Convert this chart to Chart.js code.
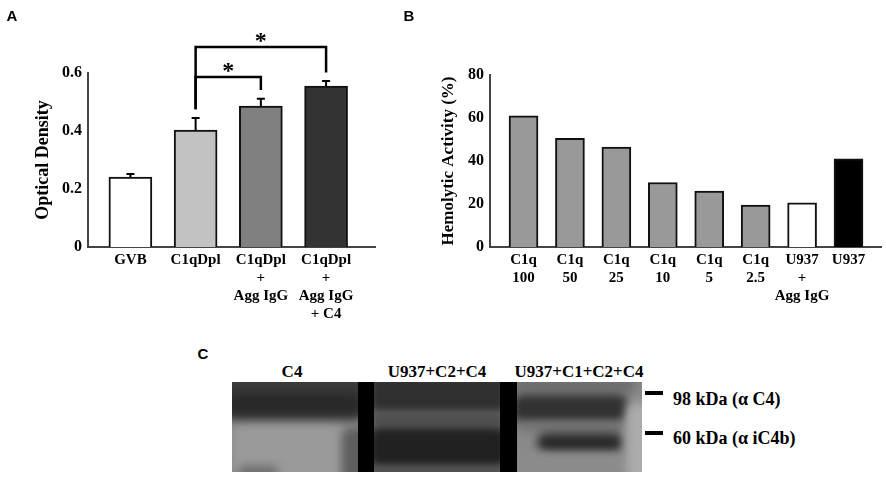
<!DOCTYPE html>
<html>
<head>
<meta charset="utf-8">
<script src="https://cdn.jsdelivr.net/npm/chart.js@4.4.1/dist/chart.umd.min.js"></script>
<style>
  body { margin: 0; background: #fff; width: 886px; height: 477px; position: relative; overflow: hidden;
         font-family: "Liberation Serif", "Times New Roman", serif; }
  canvas { position: absolute; }
  .lbl { position: absolute; font-weight: bold; white-space: nowrap; transform: translate(-50%, -50%); color: #000; }
  .panel { position: absolute; font-family: "Liberation Sans", Arial, sans-serif; font-weight: bold;
           font-size: 15px; transform: translate(-50%, -50%); }
  .dash { position: absolute; background: #000; width: 18px; height: 4px; }
</style>
</head>
<body>
<canvas id="chartA" width="420" height="330" style="left:0;top:0"></canvas>
<canvas id="chartB" width="466" height="330" style="left:420px;top:0"></canvas>
<canvas id="blot" width="410" height="90" style="left:232px;top:382px"></canvas>

<div class="panel" style="left:12px;top:15px">A</div>
<div class="panel" style="left:409px;top:15px">B</div>
<div class="panel" style="left:203px;top:353px">C</div>

<div class="lbl" style="left:292px;top:372px;font-size:17px">C4</div>
<div class="lbl" style="left:437px;top:372px;font-size:17px">U937+C2+C4</div>
<div class="lbl" style="left:579px;top:372px;font-size:17px">U937+C1+C2+C4</div>
<div class="dash" style="left:645px;top:391px"></div>
<div class="dash" style="left:645px;top:431px"></div>
<div class="lbl" style="left:673px;top:399px;font-size:18px;transform:translate(0,-50%)">98 kDa (α C4)</div>
<div class="lbl" style="left:673px;top:438px;font-size:18px;transform:translate(0,-50%)">60 kDa (α iC4b)</div>

<script>
// panel A: optical density
const categoriesA = [["GVB"], ["C1qDpl"], ["C1qDpl", "+", "Agg IgG"], ["C1qDpl", "+", "Agg IgG", "+ C4"]];
const densityA = [0.241, 0.403, 0.486, 0.555];
const errorA = [0.011, 0.042, 0.025, 0.017];
const colorsA = ["#ffffff", "#c2c2c2", "#808080", "#333333"];
const yTicksA = [0, 0.2, 0.4, 0.6];
// significance brackets: bar indices and bracket height (optical density units)
const bracketsA = [
    { from: 1, to: 2, level: 0.586 },
    { from: 1, to: 3, level: 0.69 },
];

// panel B: hemolytic activity
const categoriesB = [["C1q", "100"], ["C1q", "50"], ["C1q", "25"], ["C1q", "10"], ["C1q", "5"],
                     ["C1q", "2.5"], ["U937", "+", "Agg IgG"], ["U937"]];
const hemolysisB = [61, 50.5, 46.5, 30, 26, 19.5, 20.5, 41];
const colorsB = ["#999999", "#999999", "#999999", "#999999", "#999999", "#999999", "#ffffff", "#000000"];
const yTicksB = [0, 20, 40, 60, 80];

Chart.defaults.font.family = "'Liberation Serif', 'Times New Roman', serif";
Chart.defaults.font.weight = "bold";
Chart.defaults.color = "#000";

const errorBars = {
    id: "errorBars",
    afterDatasetsDraw(chart, args, opts) {
        if (!opts.errors) return;
        const { ctx, scales: { x, y } } = chart;
        ctx.save();
        ctx.strokeStyle = "#000";
        ctx.lineWidth = 2;
        chart.data.datasets[0].data.forEach((p, i) => {
            const px = x.getPixelForValue(p.x);
            const top = y.getPixelForValue(p.y);
            const end = y.getPixelForValue(p.y + opts.errors[i]);
            ctx.beginPath();
            ctx.moveTo(px, top);
            ctx.lineTo(px, end);
            ctx.moveTo(px - 4, end);
            ctx.lineTo(px + 4, end);
            ctx.stroke();
        });
        ctx.restore();
    },
};

const brackets = {
    id: "brackets",
    afterDraw(chart, args, opts) {
        if (!opts.items) return;
        const { ctx, scales: { x, y } } = chart;
        const data = chart.data.datasets[0].data;
        const legEnd = (i) => y.getPixelForValue(data[i].y + opts.errors[i] + 0.03);
        ctx.save();
        ctx.strokeStyle = "#000";
        ctx.lineWidth = 2.5;
        ctx.fillStyle = "#000";
        ctx.font = "bold 24px 'Liberation Serif', serif";
        ctx.textAlign = "center";
        ctx.textBaseline = "alphabetic";
        opts.items.forEach((b) => {
            const x1 = x.getPixelForValue(data[b.from].x);
            const x2 = x.getPixelForValue(data[b.to].x);
            const ly = y.getPixelForValue(b.level);
            ctx.beginPath();
            ctx.moveTo(x1, legEnd(b.from));
            ctx.lineTo(x1, ly);
            ctx.lineTo(x2, ly);
            ctx.lineTo(x2, legEnd(b.to));
            ctx.stroke();
            ctx.fillText("*", (x1 + x2) / 2, ly + 1);
        });
        ctx.restore();
    },
};

function makeChart(id, cfg) {
    return new Chart(document.getElementById(id), {
        type: "bar",
        data: {
            datasets: [{
                data: cfg.values.map((v, i) => ({ x: i + 1, y: v })),
                backgroundColor: cfg.colors,
                borderColor: "#111",
                borderWidth: 2,
                borderSkipped: "bottom",
                barThickness: cfg.barThickness,
            }],
        },
        plugins: [errorBars, brackets],
        options: {
            responsive: false,
            animation: false,
            layout: { padding: cfg.padding },
            plugins: {
                legend: { display: false },
                tooltip: { enabled: false },
                errorBars: { errors: cfg.errors },
                brackets: { items: cfg.brackets, errors: cfg.errors },
            },
            scales: {
                x: {
                    type: "linear",
                    offset: false,
                    bounds: "data",
                    min: cfg.xMin,
                    max: cfg.xMax,
                    grid: { display: false, drawTicks: false, offset: false },
                    border: { display: true, color: "#444", width: 2 },
                    afterBuildTicks: (s) => { s.ticks = cfg.categories.map((_, i) => ({ value: i + 1 })); },
                    afterFit: (s) => { s.height = 83; },
                    ticks: {
                        autoSkip: false,
                        maxRotation: 0,
                        padding: 4,
                        font: { size: 15, weight: "bold", lineHeight: "18px" },
                        callback: (v) => cfg.categories[v - 1],
                    },
                },
                y: {
                    min: 0,
                    max: cfg.yMax,
                    grid: { display: false, drawTicks: false },
                    border: { display: true, color: "#444", width: 2 },
                    afterBuildTicks: (s) => { s.ticks = cfg.yTicks.map((v) => ({ value: v })); },
                    afterFit: (s) => { s.width = cfg.yWidth; },
                    ticks: {
                        padding: 6,
                        font: { size: 16, weight: "bold" },
                        callback: cfg.tickFormat,
                    },
                    title: {
                        display: true,
                        text: cfg.title,
                        font: { size: cfg.titleSize, weight: "bold" },
                        padding: { top: cfg.titlePad, bottom: 0 },
                    },
                },
            },
        },
    });
}

makeChart("chartA", {
    categories: categoriesA,
    values: densityA,
    colors: colorsA,
    errors: errorA,
    brackets: bracketsA,
    yTicks: yTicksA,
    yMax: 0.6,
    xMin: 0.35,
    xMax: 4.75,
    barThickness: 43,
    padding: { top: 73, right: 45, left: 0, bottom: 0 },
    yWidth: 88,
    title: "Optical Density",
    titleSize: 18,
    titlePad: 33,
    tickFormat: (v) => (v === 0 ? "0" : v.toFixed(1)),
});

makeChart("chartB", {
    categories: categoriesB,
    values: hemolysisB,
    colors: colorsB,
    errors: null,
    brackets: null,
    yTicks: yTicksB,
    yMax: 80,
    xMin: 0.278,
    xMax: 8.70,
    barThickness: 29,
    padding: { top: 75, right: 5, left: 0, bottom: 0 },
    yWidth: 70,
    title: "Hemolytic Activity (%)",
    titleSize: 17,
    titlePad: 18,
    tickFormat: (v) => String(v),
});

// panel C: western blot photograph, approximated with soft bands
function drawBlot() {
    const ctx = document.getElementById("blot").getContext("2d");
    const W = 410, H = 90;
    ctx.fillStyle = "#8a8a8a";
    ctx.fillRect(0, 0, W, H);
    const blobs = [
        // lane 1
        ["#9a9a9a", 0, 42, 112, 60],
        ["#3a3a3a", -10, -8, 146, 46],
        ["#282828", -10, 12, 140, 20],
        ["#5e5e5e", 110, 46, 30, 55],
        ["#6a6a6a", 6, 84, 40, 12],
        // lane 2
        ["#303030", 136, -8, 140, 40],
        ["#4e4e4e", 136, 30, 140, 14],
        ["#212121", 136, 44, 140, 42],
        ["#464646", 136, 85, 140, 10],
        // lane 3
        ["#6e6e6e", 280, -6, 125, 16],
        ["#323232", 280, 12, 116, 29],
        ["#767676", 285, 40, 110, 10],
        ["#292929", 305, 51, 86, 19],
        ["#8c8c8c", 285, 72, 110, 20],
        ["#ababab", 394, 20, 25, 80],
    ];
    ctx.save();
    ctx.filter = "blur(5px)";
    blobs.forEach(([c, x, y, w, h]) => {
        ctx.fillStyle = c;
        ctx.beginPath();
        ctx.roundRect(x, y, w, h, 10);
        ctx.fill();
    });
    ctx.restore();
    ctx.fillStyle = "#000";
    ctx.fillRect(126, 0, 16, H);
    ctx.fillRect(268, 0, 17, H);
}
drawBlot();
</script>
</body>
</html>
